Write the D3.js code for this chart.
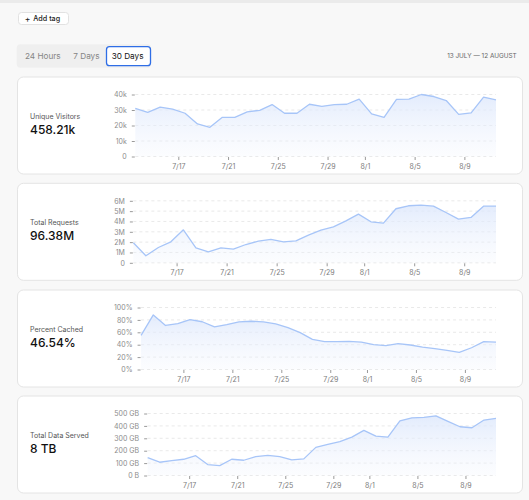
<!DOCTYPE html>
<html>
<head>
<meta charset="utf-8">
<script src="https://cdn.jsdelivr.net/npm/d3@7"></script>
<style>
  html, body { margin: 0; padding: 0; background: #f8f8f8; }
  svg { display: block; font-family: Inter, "Noto Sans", sans-serif; }
</style>
</head>
<body>
<svg id="chart" width="529" height="500"></svg>
<script>
// ---- Data ----
const dates = ["07-13","07-14","07-15","07-16","07-17","07-18","07-19","07-20","07-21","07-22",
               "07-23","07-24","07-25","07-26","07-27","07-28","07-29","07-30","07-31","08-01",
               "08-02","08-03","08-04","08-05","08-06","08-07","08-08","08-09","08-10","08-11"];
const tickDates = ["07-17","07-21","07-25","07-29","08-01","08-05","08-09"];

const titles = ["Unique Visitors", "Total Requests", "Percent Cached", "Total Data Served"];
const totals = ["458.21k", "96.38M", "46.54%", "8 TB"];

const uniqueVisitors = [31100, 28500, 31800, 30500, 27900, 21000, 18800, 25300, 25300, 28800,
                        29800, 33500, 27900, 27900, 33700, 32400, 33500, 33700, 37000, 27500,
                        25300, 36800, 37000, 40000, 38700, 36100, 27200, 28100, 38300, 36500];
const totalRequests = [1.94e6, 0.68e6, 1.48e6, 2.03e6, 3.19e6, 1.45e6, 1.06e6, 1.45e6, 1.32e6, 1.77e6,
                       2.10e6, 2.26e6, 2.03e6, 2.13e6, 2.68e6, 3.16e6, 3.48e6, 4.06e6, 4.71e6, 3.97e6,
                       3.84e6, 5.23e6, 5.52e6, 5.58e6, 5.48e6, 4.87e6, 4.23e6, 4.39e6, 5.48e6, 5.48e6];
const percentCached = [55, 88, 71, 74, 80.5, 77, 68.6, 72.4, 76.8, 77.8,
                       76.8, 73.5, 67.6, 59.5, 48.6, 44.9, 44.9, 45.4, 44.3, 40,
                       38.4, 41.6, 39.5, 36.2, 33.5, 30.8, 27.6, 35.1, 44.9, 44.3];
const dataServedGB = [144, 107, 120, 131, 160, 88, 80, 131, 123, 152,
                      163, 152, 126, 134, 227, 251, 273, 310, 364, 318,
                      310, 441, 465, 468, 481, 436, 393, 385, 447, 460];

const yTicksVisitors = [0, 10000, 20000, 30000, 40000];
const yTicksRequests = [0, 1e6, 2e6, 3e6, 4e6, 5e6, 6e6];
const yTicksPercent = [0, 20, 40, 60, 80, 100];
const yTicksData = [0, 100, 200, 300, 400, 500];

const yLabelsVisitors = ["0", "10k", "20k", "30k", "40k"];
const yLabelsRequests = ["0", "1M", "2M", "3M", "4M", "5M", "6M"];
const yLabelsPercent = ["0%", "20%", "40%", "60%", "80%", "100%"];
const yLabelsData = ["0 B", "100 GB", "200 GB", "300 GB", "400 GB", "500 GB"];

const tabs = ["24 Hours", "7 Days", "30 Days"];
const dateRange = "13 JULY — 12 AUGUST";

// ---- Helpers ----
const parseDay = (s, h) => { const [m, d] = s.split("-").map(Number); return new Date(2024, m - 1, d, h); };
const xDates = dates.map(s => parseDay(s, 13));
const xTicks = tickDates.map(s => parseDay(s, 0));
const fmtTick = d3.timeFormat("%-m/%-d");

const svg = d3.select("#chart");

// top strip
svg.append("rect").attr("x", 0).attr("y", 0).attr("width", 529).attr("height", 3).attr("fill", "#ebebeb");

// Add tag button
const btn = svg.append("g");
btn.append("rect").attr("x", 18.5).attr("y", 12.5).attr("width", 50).attr("height", 12)
  .attr("rx", 3).attr("fill", "#fff").attr("stroke", "#e2e2e2");
btn.append("text").attr("x", 27.5).attr("y", 21.7).attr("text-anchor", "middle")
  .attr("font-size", 8.5).attr("fill", "#222").text("+");
btn.append("text").attr("x", 33.3).attr("y", 21.4).attr("font-size", 7.2).attr("font-weight", 500)
  .attr("fill", "#222").text("Add tag");

// Tabs
svg.append("rect").attr("x", 16.7).attr("y", 44.3).attr("width", 134.5).attr("height", 23.4)
  .attr("rx", 4).attr("fill", "#efefef");
svg.append("rect").attr("x", 106.5).attr("y", 46.7).attr("width", 44).attr("height", 19)
  .attr("rx", 3).attr("fill", "#fff").attr("stroke", "#2f6ee6").attr("stroke-width", 1.3);
const tabX = [25, 73.3, 111.7];
tabs.forEach((t, i) => {
  svg.append("text").attr("x", tabX[i]).attr("y", 59).attr("font-size", 8.2)
    .attr("fill", i === 2 ? "#111" : "#858585").text(t);
});
svg.append("text").attr("x", 516.7).attr("y", 58.4).attr("text-anchor", "end")
  .attr("font-size", 6.4).attr("fill", "#666").text(dateRange);

// Gradient
const defs = svg.append("defs");
const grad = defs.append("linearGradient").attr("id", "areaGrad")
  .attr("x1", 0).attr("y1", 0).attr("x2", 0).attr("y2", 1);
grad.append("stop").attr("offset", "0%").attr("stop-color", "#dce7fc").attr("stop-opacity", 0.8);
grad.append("stop").attr("offset", "100%").attr("stop-color", "#eef3fd").attr("stop-opacity", 0.2);

// Cards
const charts = [
  { values: uniqueVisitors, ticks: yTicksVisitors, labels: yLabelsVisitors },
  { values: totalRequests, ticks: yTicksRequests, labels: yLabelsRequests },
  { values: percentCached, ticks: yTicksPercent, labels: yLabelsPercent },
  { values: dataServedGB, ticks: yTicksData, labels: yLabelsData }
];
const cardTops = [77, 183.3, 290, 396];

charts.forEach((c, i) => {
  const top = cardTops[i];
  const g = svg.append("g");
  g.append("rect").attr("x", 17.5).attr("y", top).attr("width", 505).attr("height", 97)
    .attr("rx", 6).attr("fill", "#fff").attr("stroke", "#e4e4e4");

  g.append("text").attr("x", 30).attr("y", top + 42).attr("font-size", 7).attr("fill", "#555")
    .text(titles[i]);
  g.append("text").attr("x", 30).attr("y", top + 57).attr("font-size", 12).attr("font-weight", 500)
    .attr("fill", "#111").text(totals[i]);

  // measure y labels
  const labelLeft = 114;
  const tmp = g.append("g").attr("font-size", 7);
  let maxW = 0;
  c.labels.forEach(l => {
    const t = tmp.append("text").text(l);
    maxW = Math.max(maxW, t.node().getComputedTextLength());
  });
  tmp.remove();
  const labelRight = labelLeft + maxW;
  const plotLeft = labelRight + 8.5;
  const plotRight = 496;
  const plotTop = top + 17.5;
  const plotBottom = plotTop + 62;

  const x = d3.scaleTime().domain([xDates[0], xDates[xDates.length - 1]]).range([plotLeft, plotRight]);
  const y = d3.scaleLinear().domain([0, c.ticks[c.ticks.length - 1]]).range([plotBottom, plotTop]);

  // grid
  g.append("g").selectAll("line").data(c.ticks).join("line")
    .attr("x1", plotLeft).attr("x2", plotRight)
    .attr("y1", d => y(d)).attr("y2", d => y(d))
    .attr("stroke", "#e3e3e3").attr("stroke-width", 0.8).attr("stroke-dasharray", "3,3");

  // y axis
  const yAxis = d3.axisLeft(y).tickValues(c.ticks).tickSize(3).tickPadding(5)
    .tickFormat((d, k) => c.labels[k]);
  const ya = g.append("g").attr("transform", `translate(${plotLeft - 0.5},0)`).call(yAxis);
  ya.select(".domain").remove();
  ya.selectAll("line").attr("stroke", "#9a9a9a");
  ya.selectAll("text").attr("font-size", 7).attr("fill", "#8c8c8c").attr("font-family", "Inter, sans-serif");

  // x axis
  const xAxis = d3.axisBottom(x).tickValues(xTicks).tickSize(3).tickPadding(4).tickFormat(fmtTick);
  const xa = g.append("g").attr("transform", `translate(0,${plotBottom + 0.5})`).call(xAxis);
  xa.select(".domain").remove();
  xa.selectAll("line").attr("stroke", "#9a9a9a");
  xa.selectAll("text").attr("font-size", 7).attr("fill", "#7c7c7c").attr("font-family", "Inter, sans-serif");

  // area + line
  const pts = c.values.map((v, k) => [xDates[k], v]);
  const area = d3.area().x(d => x(d[0])).y0(plotBottom).y1(d => y(d[1]));
  const line = d3.line().x(d => x(d[0])).y(d => y(d[1]));
  g.append("path").datum(pts).attr("d", area).attr("fill", "url(#areaGrad)");
  g.append("path").datum(pts).attr("d", line).attr("fill", "none")
    .attr("stroke", "#a7c5f8").attr("stroke-width", 1.3).attr("stroke-linejoin", "round");
});
</script>
</body>
</html>
